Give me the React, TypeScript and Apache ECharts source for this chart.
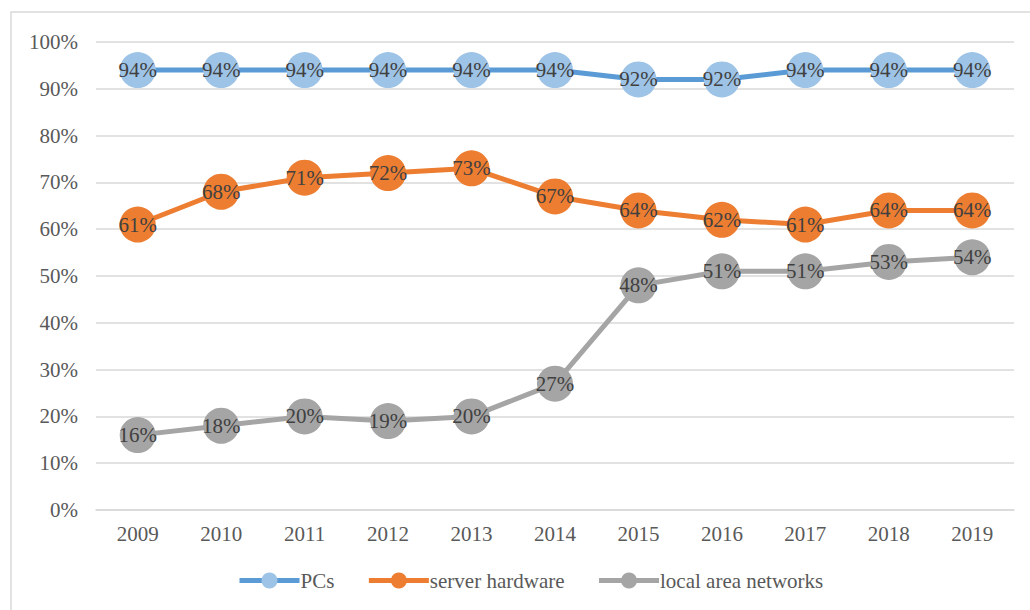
import React, { useEffect, useRef } from "react";
import * as echarts from "echarts";

const years = ["2009", "2010", "2011", "2012", "2013", "2014", "2015", "2016", "2017", "2018", "2019"];
const pcs = [94, 94, 94, 94, 94, 94, 92, 92, 94, 94, 94];
const serverHardware = [61, 68, 71, 72, 73, 67, 64, 62, 61, 64, 64];
const localAreaNetworks = [16, 18, 20, 19, 20, 27, 48, 51, 51, 53, 54];

const FONT = "'Liberation Serif', 'Times New Roman', serif";

function makeSeries(name: string, data: number[], lineColor: string, markerColor: string) {
  return {
    name,
    type: "line",
    data,
    symbol: "circle",
    symbolSize: 36,
    lineStyle: { color: lineColor, width: 5 },
    itemStyle: { color: markerColor, borderWidth: 0 },
    label: {
      show: true,
      position: "inside",
      formatter: "{c}%",
      fontFamily: FONT,
      fontSize: 21,
      color: "#404040",
    },
    z: 3,
  };
}

export default function App() {
  const ref = useRef<HTMLDivElement>(null);

  useEffect(() => {
    if (!ref.current) return;
    const chart = echarts.init(ref.current, undefined, { renderer: "svg" });
    chart.setOption({
      animation: false,
      backgroundColor: "#ffffff",
      graphic: [
        {
          type: "rect",
          shape: { x: 11, y: 12, width: 1040, height: 620 },
          style: { fill: "none", stroke: "#D9D9D9", lineWidth: 1.5 },
          silent: true,
        },
      ],
      grid: { left: 96, right: 16, top: 42, bottom: 100 },
      xAxis: {
        type: "category",
        data: years,
        boundaryGap: true,
        axisLine: { show: true, lineStyle: { color: "#D9D9D9", width: 1.5 } },
        axisTick: { show: false },
        axisLabel: { fontFamily: FONT, fontSize: 21, color: "#595959", margin: 13 },
      },
      yAxis: {
        type: "value",
        min: 0,
        max: 100,
        interval: 10,
        axisLine: { show: false },
        axisTick: { show: false },
        axisLabel: {
          fontFamily: FONT,
          fontSize: 21,
          color: "#595959",
          margin: 18,
          formatter: "{value}%",
        },
        splitLine: { lineStyle: { color: "#D9D9D9", width: 1.5 } },
      },
      legend: {
        bottom: 19,
        left: 237,
        padding: 0,
        itemWidth: 60,
        itemHeight: 20,
        itemGap: 32,
        lineStyle: { width: 5 },
        textStyle: { fontFamily: FONT, fontSize: 21, color: "#595959", padding: [0, 0, 0, -4] },
        data: ["PCs", "server hardware", "local area networks"],
      },
      series: [
        makeSeries("PCs", pcs, "#5B9BD5", "#9DC3E6"),
        makeSeries("server hardware", serverHardware, "#ED7D31", "#ED7D31"),
        makeSeries("local area networks", localAreaNetworks, "#A5A5A5", "#A5A5A5"),
      ],
    });
    return () => chart.dispose();
  }, []);

  return (
    <div
      ref={ref}
      style={{ position: "absolute", left: 0, top: 0, width: 1030, height: 610 }}
    />
  );
}
